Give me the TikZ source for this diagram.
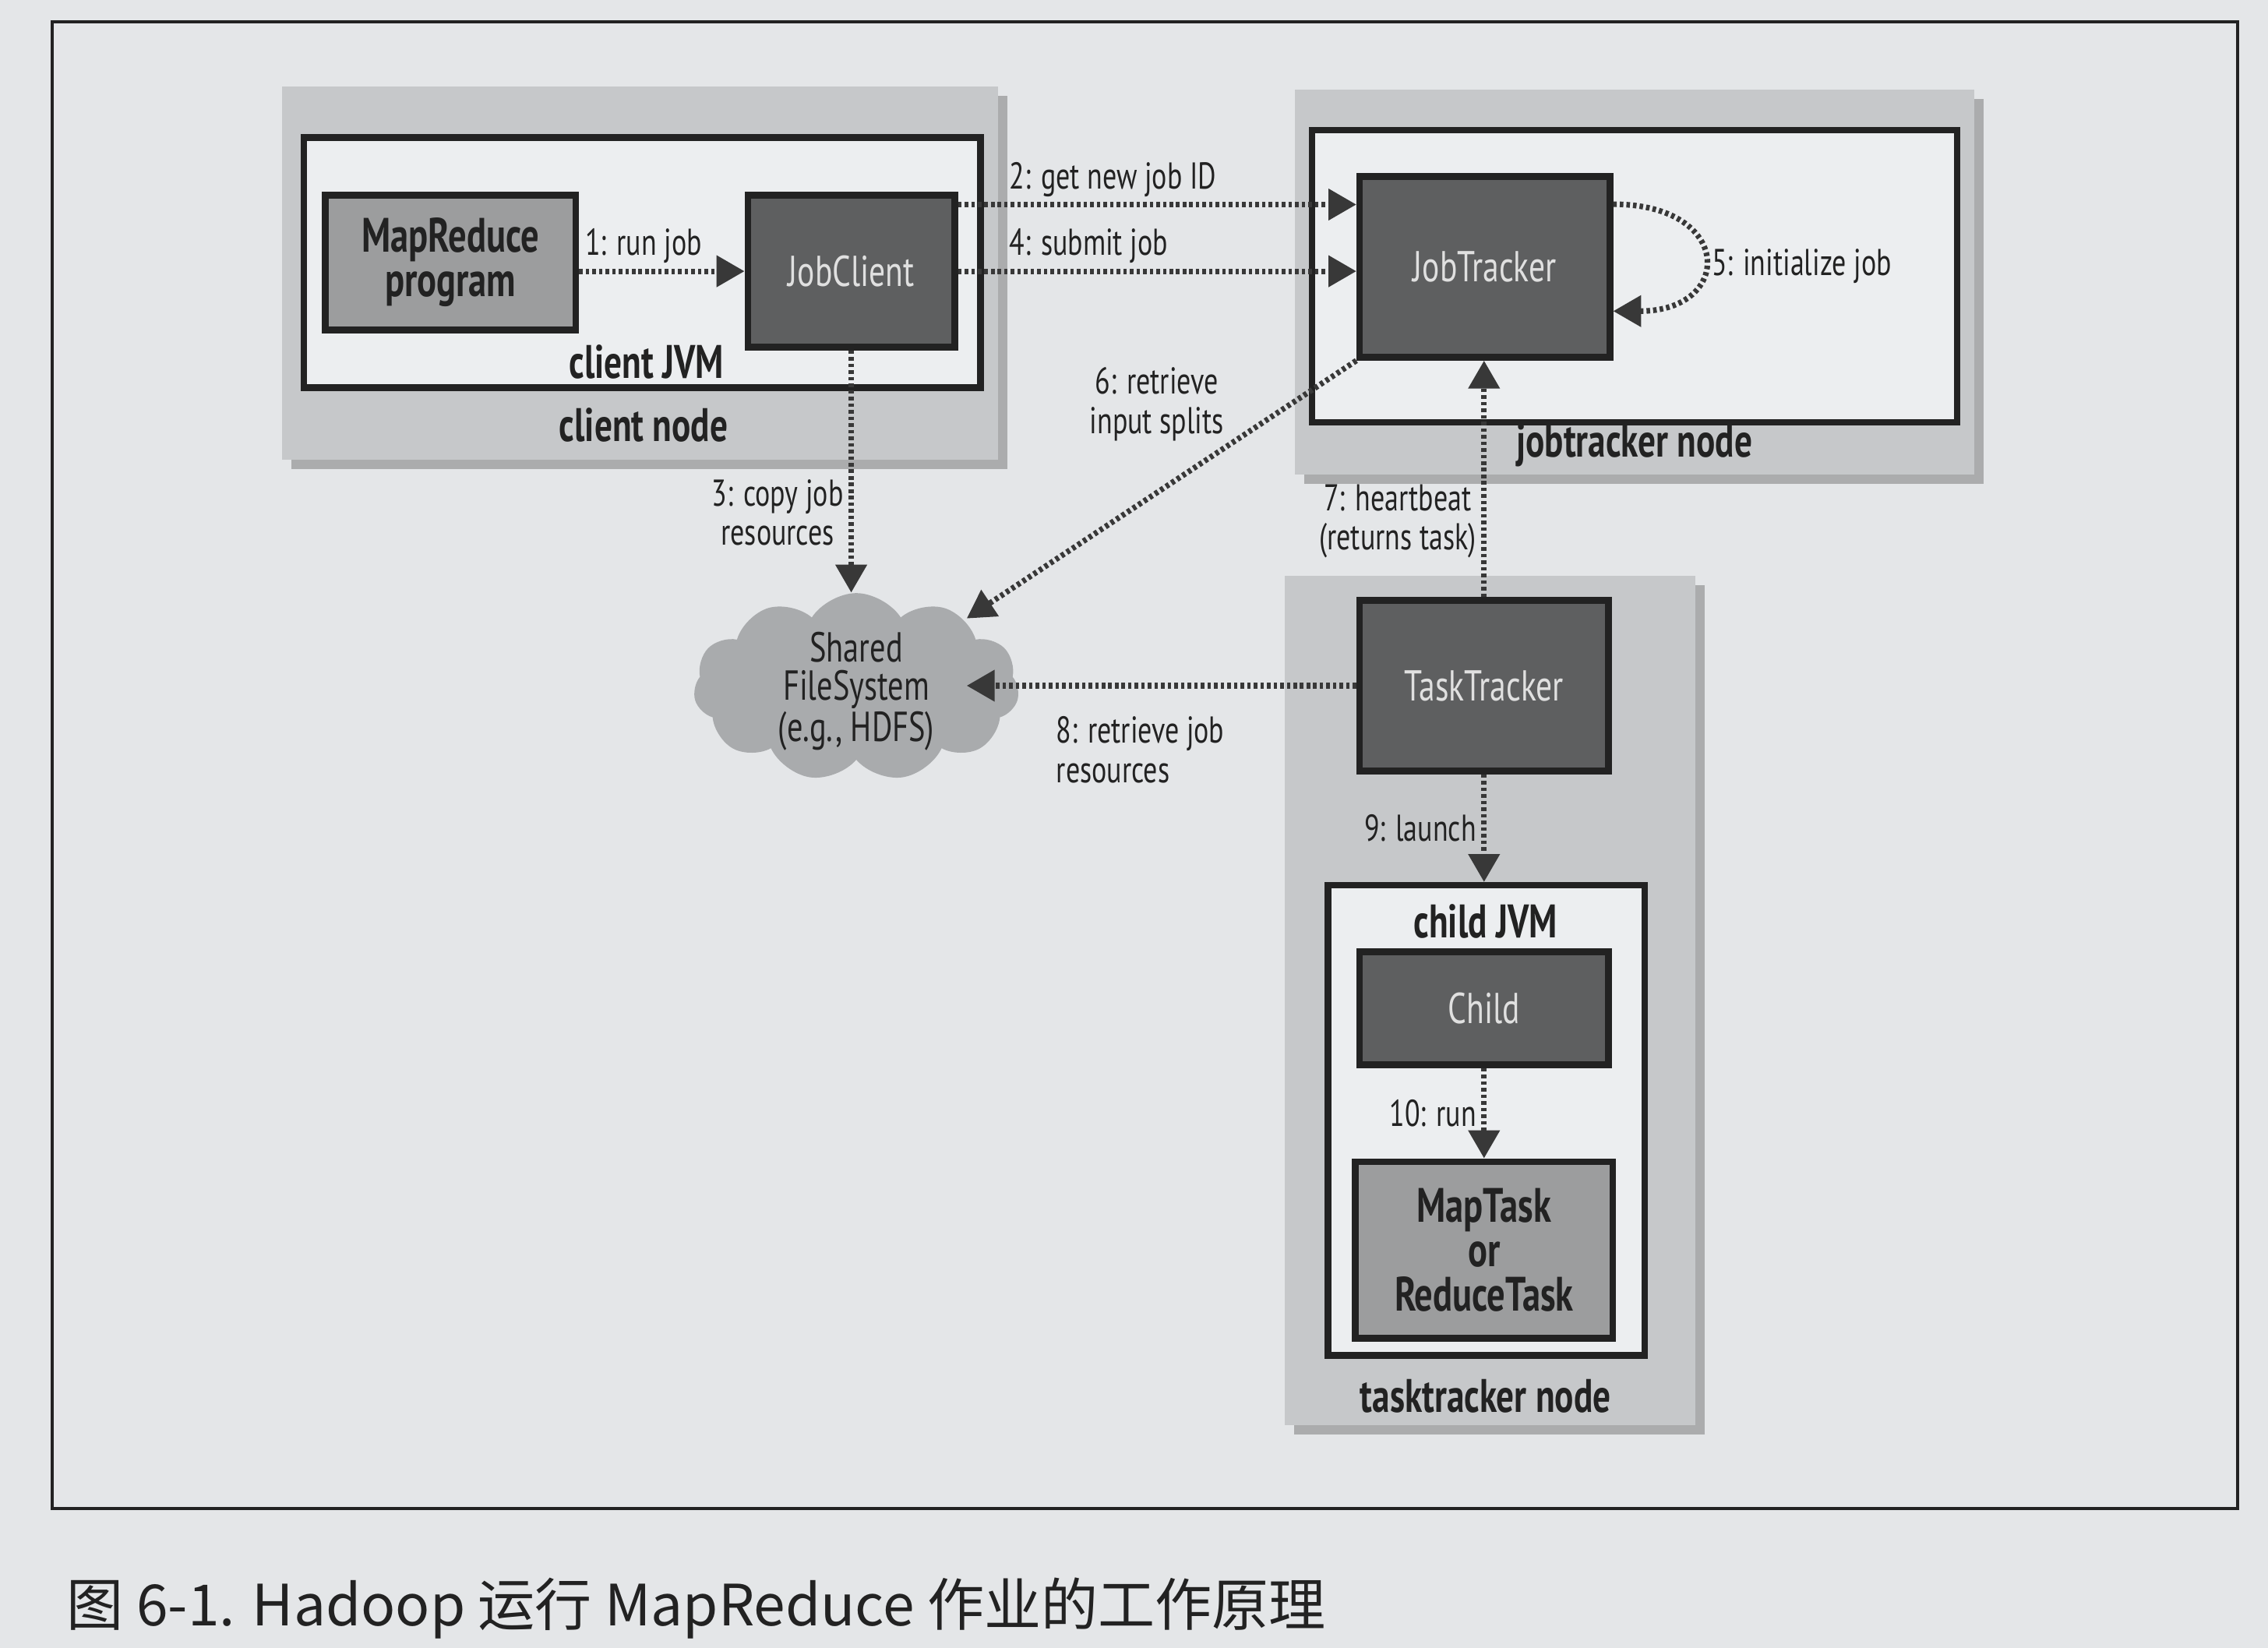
\documentclass[tikz,border=0pt]{standalone}
\usepackage{fontspec}
\setmainfont{PT Sans}[FakeStretch=0.75]
\newfontfamily\cjk{Noto Sans CJK SC}
\usetikzlibrary{arrows.meta,fit,shapes.symbols,shadows}
\definecolor{paper}{HTML}{E4E6E8}
\definecolor{hostgray}{HTML}{C6C8CA}
\definecolor{jvmfill}{HTML}{ECEEF0}
\definecolor{darkfill}{HTML}{5E5F60}
\definecolor{midfill}{HTML}{9C9D9E}
\definecolor{cloudfill}{HTML}{A9ABAD}
\definecolor{ink}{HTML}{222222}

\begin{document}
\begin{tikzpicture}[x=0.2mm,y=-0.2mm,
host/.style={fit={#1},inner sep=0pt,fill=hostgray,drop shadow={shadow xshift=1.3mm,shadow yshift=-1.3mm,fill=black!55}},
jvm/.style={fit={#1},inner sep=0pt,draw=ink,line width=2.6pt,fill=jvmfill},
dark/.style={fit={#1},inner sep=0pt,draw=ink,line width=2.6pt,fill=darkfill},
mid/.style={fit={#1},inner sep=0pt,draw=ink,line width=2.6pt,fill=midfill},
darktext/.style={text=white!88!black,font=\fontsize{17}{20}\selectfont},
midtext/.style={text=ink,align=center,font=\bfseries\fontsize{19}{17.5}\selectfont},
title/.style={font=\bfseries\fontsize{18.5}{21}\selectfont,text=ink},
lbl/.style={font=\fontsize{14.7}{15.5}\selectfont,text=ink,align=center,inner sep=2pt},
flow/.style={draw=ink!90,line width=2.2pt,dash pattern=on 1.4pt off 1.2pt,-{Triangle[length=11pt,width=12pt]}}]
\fill[paper] (0,0) rectangle (1568,1139);
\node[draw=ink,line width=1.2pt,fit={(36,15)(1547,1043)},inner sep=0pt] (frame) {};

\node[host={(195,60)(690,318)}] (clienthost) {};
\node[jvm={(210,95)(678,268)}] (clientjvm) {};
\node[mid={(225,135)(398,228)},label={[midtext]center:{MapReduce\\program}}] (prog) {};
\node[dark={(517,135)(660,240)},label={[darktext]center:JobClient}] (jobclient) {};
\node[title] (clientjvmlbl) at (447,250) {client JVM};
\node[title] (clienthostlbl) at (445,294) {client node};

\node[host={(895,62)(1365,328)}] (jthost) {};
\node[jvm={(907,90)(1353,292)}] (jtjvm) {};
\node[dark={(940,122)(1113,247)},label={[darktext]center:JobTracker}] (jt) {};
\node[title] (jthostlbl) at (1130,308) {jobtracker node};

\node[host={(888,398)(1172,985)}] (tthost) {};
\node[dark={(940,415)(1112,533)},label={[darktext]center:TaskTracker}] (tt) {};
\node[jvm={(918,612)(1137,937)}] (childjvm) {};
\node[title] (childjvmlbl) at (1027,637) {child JVM};
\node[dark={(940,658)(1112,736)},label={[darktext]center:Child}] (child) {};
\node[mid={(937,803)(1115,925)},label={[midtext]center:{MapTask\\or\\ReduceTask}}] (task) {};
\node[title] (tthostlbl) at (1027,965) {tasktracker node};

\node[cloud,cloud puffs=11,cloud puff arc=115,fill=cloudfill,minimum width=45mm,minimum height=26mm] (fscloud) at (592,475) {};
\node[lbl,font=\fontsize{16.5}{15}\selectfont,minimum width=30.4mm,minimum height=27.2mm] (hdfs) at (592,478) {Shared\\FileSystem\\(e.g., HDFS)};

\draw[flow] (prog.east |- jobclient.west) -- node[lbl,pos=0.39,above] {1: run job} (jobclient.west);
\draw[flow] (jobclient.32) -- node[lbl,pos=0.11,anchor=south west] {2: get new job ID} (jobclient.32 -| jt.west);
\draw[flow] (jobclient.east) -- node[lbl,pos=0.11,anchor=south west] {4: submit job} (jobclient.east -| jt.west);
\draw[flow] (jt.26) to[out=0,in=0,looseness=2.9] node[lbl,right,yshift=-1.2mm] {5: initialize job} (jt.-19);
\draw[flow] (jobclient.south) -- node[lbl,pos=0.67,anchor=east] {3: copy job\\resources} (jobclient.south |- fscloud.north);
\draw[flow] (jt.south west) -- node[lbl,pos=0.32,anchor=south east,yshift=-0.8mm] {6: retrieve\\input splits} (hdfs);
\draw[flow] (tt.north) -- node[lbl,pos=0.32,anchor=east] {7: heartbeat\\(returns task)} (tt.north |- jt.south);
\draw[flow] (tt.west) -- node[lbl,pos=0.79,anchor=north west,align=left,yshift=-3.2mm] {8: retrieve job\\resources} (tt.west -| hdfs.east);
\draw[flow] (tt.south) -- node[lbl,left] {9: launch} (tt.south |- childjvm.north);
\draw[flow] (child.south) -- node[lbl,left] {10: run} (child.south |- task.north);

\node[anchor=west,font=\cjk\fontsize{22.4}{25}\selectfont,text=ink] (caption) at (40,1112) {图 6-1. Hadoop 运行 MapReduce 作业的工作原理};
\end{tikzpicture}
\end{document}
